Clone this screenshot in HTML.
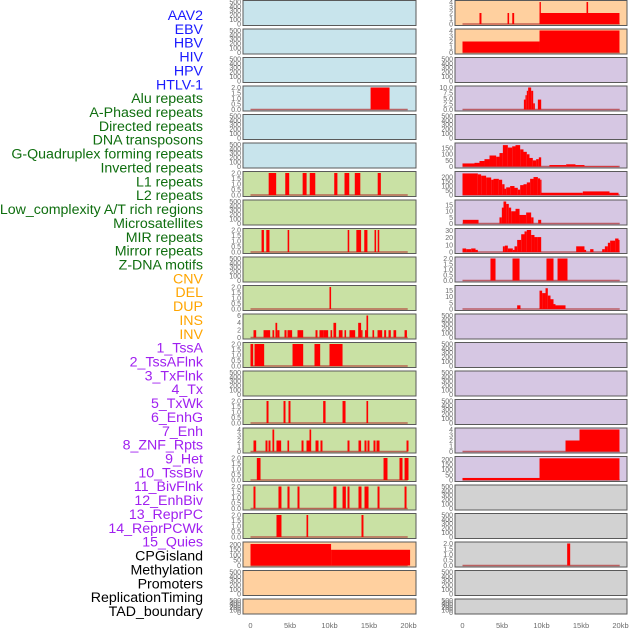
<!DOCTYPE html>
<html><head><meta charset="utf-8"><style>
html,body{margin:0;padding:0;background:#fff;}
svg{display:block;font-family:"Liberation Sans",sans-serif;}
</style></head><body>
<svg id="chart" width="630" height="630" viewBox="0 0 630 630" xmlns="http://www.w3.org/2000/svg"></svg>
<script>
const rowLabels = ["AAV2","EBV","HBV","HIV","HPV","HTLV-1","Alu repeats","A-Phased repeats","Directed repeats","DNA transposons","G-Quadruplex forming repeats","Inverted repeats","L1 repeats","L2 repeats","Low_complexity A/T rich regions","Microsatellites","MIR repeats","Mirror repeats","Z-DNA motifs","CNV","DEL","DUP","INS","INV","1_TssA","2_TssAFlnk","3_TxFlnk","4_Tx","5_TxWk","6_EnhG","7_Enh","8_ZNF_Rpts","9_Het","10_TssBiv","11_BivFlnk","12_EnhBiv","13_ReprPC","14_ReprPCWk","15_Quies","CPGisland","Methylation","Promoters","ReplicationTiming","TAD_boundary"];
const labelGroups = [0,0,0,0,0,0,1,1,1,1,1,1,1,1,1,1,1,1,1,2,2,2,2,2,3,3,3,3,3,3,3,3,3,3,3,3,3,3,3,4,4,4,4,4];
const xTickValues = [0,5,10,15,20];
const xTickLabels = ["0","5kb","10kb","15kb","20kb"];

// segments: [startKb, endKb, value]
const aluL = [[15.2,17.6,2]];
const l1L = [[2.3,3.25,2],[4.4,4.9,2],[6.6,7.1,2],[7.5,8.2,2],[10.6,11.0,2],[11.9,12.5,2],[13.2,13.9,2],[16.1,16.5,2]];
const mirL = [[1.4,1.7,2],[2.0,2.4,2],[4.7,4.9,2],[12.3,12.5,2],[13.4,14.0,2],[14.4,14.8,2],[15.7,15.9,2],[16.1,16.3,2]];
const delL = [[10.0,10.2,2]];
const insL = [[0.38,0.72,2],[1.65,2.49,2],[2.78,3.0,2],[3.16,3.38,4],[3.38,3.67,2],[4.3,4.56,2],[4.68,5.27,2],[5.95,6.67,2],[8.23,8.48,2],[8.73,9.28,2],[9.28,9.83,2],[10.13,10.34,2],[10.5,10.84,4],[11.18,11.65,2],[11.9,12.1,2],[12.53,13.25,2],[13.63,14.0,4],[14.0,14.18,2],[14.5,14.68,2],[14.68,14.89,6],[15.44,15.65,2],[16.08,16.67,2],[16.92,17.17,2],[17.47,17.76,2],[18.1,18.44,2],[19.5,19.8,2]];
const tssaL = [[0,0.34,2],[0.51,1.73,2],[5.32,6.67,2],[8.1,8.82,2],[10.0,11.65,2]];
const txwkL = [[2.03,2.28,2],[4.18,4.43,2],[4.81,5.06,2],[9.2,9.5,2],[11.65,12.03,2],[14.68,14.89,2]];
const enhgL = [[0.38,0.72,2],[1.9,2.15,2],[2.28,2.53,2],[2.78,3.0,4],[3.29,3.88,2],[4.68,4.89,2],[6.46,6.71,2],[7.09,7.47,2],[7.47,7.68,4],[8.23,8.61,2],[8.86,9.11,2],[12.28,12.53,2],[13.67,14.0,2],[14.43,14.68,2],[14.81,15.06,2],[15.57,15.82,2],[15.95,16.33,2],[19.75,20.0,2]];
const znfL = [[0.8,1.27,2],[16.84,17.34,2],[18.86,19.24,2],[19.5,20.0,2]];
const hetL = [[0.38,0.63,2],[3.54,3.92,2],[4.68,4.94,2],[5.95,6.2,2],[10.5,10.88,2],[11.65,12.07,2],[12.28,12.53,2],[13.67,14.05,2],[14.43,14.94,2],[16.08,16.33,2],[19.5,19.75,2]];
const bivL = [[3.29,3.92,2],[7.09,7.3,2],[14.05,14.3,2]];
const cpgL = [[0,10.2,205],[10.2,20.2,150]];

const aav2R = [[2.15,2.4,2],[5.7,5.9,2],[6.3,6.54,2],[9.75,19.87,2],[9.75,9.92,4],[15.7,15.9,4]];
const ebvR = [[0,9.75,2],[9.75,19.87,4]];
const aluR = [[7.77,7.97,4.5],[7.97,8.14,6.5],[8.14,8.31,8.5],[8.31,8.69,10],[8.69,8.95,8.5],[8.95,9.16,2.8],[9.54,9.96,4.5]];
const gqR = [[0,1.52,25],[1.52,2.15,30],[2.15,2.78,45],[2.78,3.42,60],[3.42,4.26,90],[4.26,4.68,80],[4.68,5.11,110],[5.11,5.74,175],[5.74,6.29,155],[6.29,6.71,165],[6.71,7.3,175],[7.3,7.72,140],[7.72,8.14,120],[8.14,8.48,100],[8.48,8.9,70],[8.9,9.32,50],[9.32,9.66,60],[9.66,9.96,75],[11.0,13.12,12],[13.12,14.3,18],[14.3,15.44,12],[15.44,19.75,3]];
const l1R = [[0,1.94,240],[1.94,2.36,230],[2.36,2.99,215],[2.99,3.63,195],[3.63,3.92,170],[3.92,4.6,180],[4.6,5.02,170],[5.02,5.32,120],[5.32,5.53,70],[5.53,6.03,85],[6.03,6.58,100],[6.58,7.0,80],[7.0,7.3,60],[7.3,7.72,110],[7.72,8.14,120],[8.14,8.56,140],[8.56,8.99,180],[8.99,9.54,200],[9.54,9.83,185],[9.83,10.0,170],[10.0,15.23,25],[15.23,18.61,40],[18.61,19.75,25]];
const lowR = [[0.04,2.03,3],[4.68,4.98,5],[4.98,5.19,13],[5.19,5.53,18],[5.53,5.86,16],[5.86,6.16,13],[6.16,6.71,10],[6.71,7.22,12],[7.22,8.06,7],[8.06,8.69,9],[8.69,8.99,5],[9.58,9.96,3]];
const mirR = [[0,0.46,5],[0.46,1.1,4],[1.1,1.65,5],[1.65,1.94,3],[5.11,5.36,8],[5.36,5.74,9],[5.74,6.37,5],[6.37,6.58,3],[6.58,6.92,8],[6.92,7.43,17],[7.43,7.85,25],[7.85,8.14,29],[8.14,8.69,31],[8.69,9.11,24],[9.11,9.54,21],[9.54,9.96,21],[14.39,15.44,8],[15.44,15.65,3],[16.16,16.58,4],[17.68,18.02,4],[18.02,18.4,8],[18.4,18.69,13],[18.69,19.32,16],[19.32,19.75,19],[19.75,19.87,17]];
const zdnaR = [[3.54,4.18,2],[6.33,7.22,2],[10.63,11.52,2],[12.03,13.29,2]];
const delR = [[6.92,7.34,3],[9.75,10.08,15],[10.08,10.51,13],[10.51,10.8,17],[10.8,11.14,11],[11.14,11.52,8],[11.52,11.77,4],[11.77,13.04,3]];
const znfR = [[13.04,14.81,2],[14.81,19.87,4]];
const hetR = [[0,9.75,20],[9.75,19.87,212]];
const cpgR = [[13.25,13.63,2]];

const leftSeries = [null,null,null,aluL,null,null,l1L,null,mirL,null,delL,insL,tssaL,null,txwkL,enhgL,znfL,hetL,bivL,cpgL,null,null];
const rightSeries = [aav2R,ebvR,null,aluR,null,gqR,l1R,lowR,mirR,zdnaR,delR,null,null,null,null,znfR,hetR,null,null,cpgR,null,null];
const leftYmax = [500,500,500,2,500,500,2,500,2,500,2,6,2,500,2,4,2,2,2,210,500,500];
const rightYmax = [4,4,500,10,500,180,245,18,31,2,18,500,500,500,500,4,215,500,500,2,500,500];
const tickSets = {
  e:["0","100","200","300","400","500"], d2:["0.0","0.5","1.0","1.5","2.0"], i6:["0","2","4","6"], i4:["0","1","2","3","4"],
  c200:["0","50","100","150","200"], a10:["0.0","2.5","5.0","7.5","10.0"], g150:["0","50","100","150"], m30:["0","10","20","30"], s15:["0","5","10","15"]
};
const leftTicks = ["e","e","e","d2","e","e","d2","e","d2","e","d2","i6","d2","e","d2","i4","d2","d2","d2","c200","e","e"];
const rightTicks = ["i4","i4","e","a10","e","g150","c200","s15","m30","d2","s15","e","e","e","e","i4","c200","e","e","d2","e","e"];
const leftBg = ["b","b","b","b","b","b","g","g","g","g","g","g","g","g","g","g","g","g","g","o","o","o"];
const rightBg = ["o","o","p","p","p","p","p","p","p","p","p","p","p","p","p","p","p","y","y","y","y","y"];

const NS="http://www.w3.org/2000/svg";
const svg=document.getElementById('chart');
const bgColors={b:"#c8e4ec",g:"#c9e1a4",o:"#ffd09f",p:"#d6c7e3",y:"#d2d2d2"};
const groupColors=["#1a1aff","#0f6e0f","#ffa500","#a020f0","#000000"];
function mk(tag,attrs){const e=document.createElementNS(NS,tag);for(const k in attrs)e.setAttribute(k,attrs[k]);svg.appendChild(e);return e;}

rowLabels.forEach((t,i)=>{
  const e=mk('text',{x:203,y:20+i*13.86,'text-anchor':'end','font-size':14.2,fill:groupColors[labelGroups[i]]});
  e.textContent=t;
  
  
});

const pxPerKb=7.9;
function drawPanel(col,i,series,ymax,ticks,bg){
  const left=col===0?243:455, width=col===0?173:172;
  const top=0.5+i*28.5, h=(i===21)?15:25;
  const xs=kb=>left+7.5+kb*pxPerKb;
  const ys=v=>top+h-1.5-(v/ymax)*(h-3);
  const r=mk('rect',{x:left,y:top,width:width,height:h,fill:bgColors[bg],stroke:'#5a5a5a','stroke-width':1});
  
  
  const tl=tickSets[ticks];
  tl.forEach((lab,k)=>{
    const v=parseFloat(lab);
    const t=mk('text',{x:left-2,y:ys(v)+2.4,'text-anchor':'end','font-size':7,fill:'#6a6a6a'});
    t.textContent=lab;
    
    
  });
  if(series){
    const base=mk('line',{x1:xs(0),x2:xs(19.9),y1:ys(0),y2:ys(0),stroke:'#b03030','stroke-width':1.5,'stroke-opacity':0.7});
    
    
    series.forEach(s=>{
      const x0=xs(s[0]),x1=xs(s[1]),y1=ys(s[2]),y0=ys(0);
      const b=mk('rect',{x:x0,y:y1,width:Math.max(1,x1-x0),height:y0-y1,fill:'#ff0000'});
      
      
    });
  }
}
for(let i=0;i<22;i++){
  drawPanel(0,i,leftSeries[i],leftYmax[i],leftTicks[i],leftBg[i]);
  drawPanel(1,i,rightSeries[i],rightYmax[i],rightTicks[i],rightBg[i]);
}
[0,1].forEach(col=>{
  const left=col===0?243:455;
  xTickValues.forEach((v,k)=>{
    const t=mk('text',{x:left+7.5+v*pxPerKb,y:628,'text-anchor':'middle','font-size':7.5,fill:'#6a6a6a'});
    t.textContent=xTickLabels[k];
    
    
  });
});
</script>
</body></html>
